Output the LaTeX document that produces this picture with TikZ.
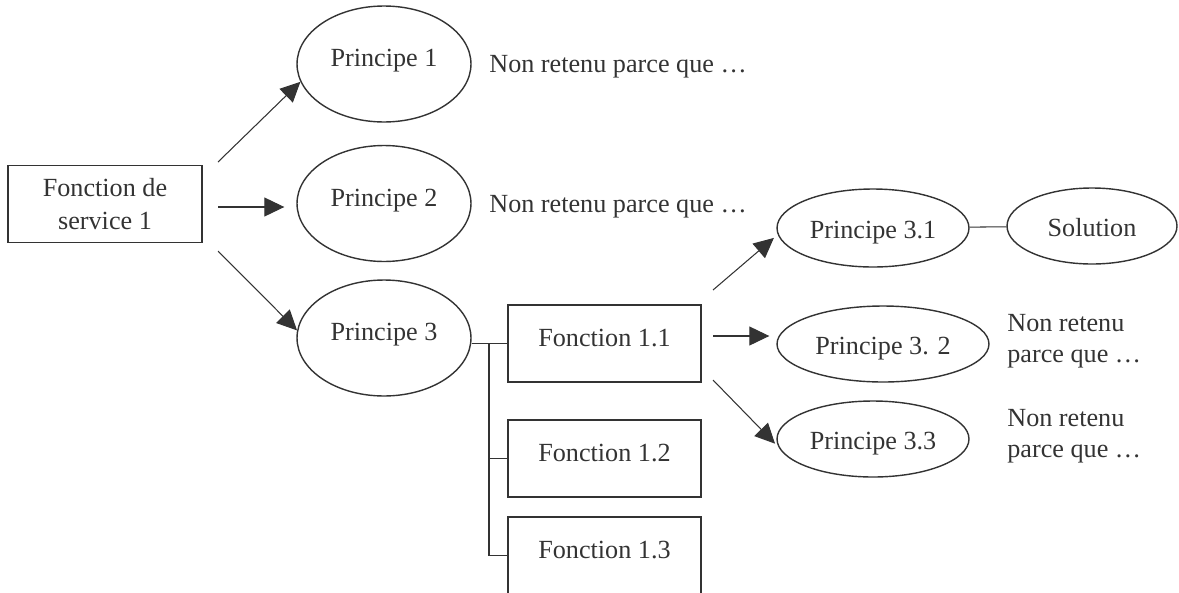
\documentclass[tikz,border=0pt]{standalone}
\usepackage{fontspec}
\setmainfont{Liberation Serif}
\usetikzlibrary{arrows.meta,shapes.geometric}
\definecolor{inkgrey}{RGB}{51,51,51}
\tikzset{
  fbox/.style ={rectangle, draw=inkgrey, line width=0.8pt, inner sep=0pt,
                minimum width=3.86cm, minimum height=1.54cm,
                text height=0.36cm, text depth=0.26cm},
  princ/.style={ellipse, draw=inkgrey, line width=0.8pt, inner sep=0pt,
                text height=0.36cm, text depth=0.26cm},
  princsm/.style={ellipse, draw=inkgrey, line width=0.8pt, inner sep=0pt,
                text height=0.52cm, text depth=0.12cm},
  tline/.style={line width=0.6pt, inkgrey},
  tdir/.style ={-{Triangle[length=4mm, width=3.8mm]}, line width=0.6pt, inkgrey},
  tnote/.style={inner sep=0pt, text=inkgrey},
}
\begin{document}
\begin{tikzpicture}[x=0.02cm, y=-0.02cm, text=inkgrey,
    font=\fontsize{14.9pt}{17.5pt}\selectfont]
    \useasboundingbox (0,0) rectangle (1179,592);
    % service function and its principles
    \node[rectangle, draw=inkgrey, line width=0.8pt, minimum width=3.88cm,
          minimum height=1.54cm, align=center] (fs) at (105,204) {Fonction de\\[1.5pt]service 1};
    \node[princ, minimum width=3.48cm, minimum height=2.32cm] (p1) at (384,64)    {Principe 1};
    \node[princ, minimum width=3.48cm, minimum height=2.32cm] (p2) at (384,203.5) {Principe 2};
    \node[princ, minimum width=3.48cm, minimum height=2.32cm] (p3) at (384,338)   {Principe 3};
    \node[tnote, anchor=base west] (r1) at (489,72)  {Non retenu parce que …};
    \node[tnote, anchor=base west] (r2) at (489,212) {Non retenu parce que …};
    \coordinate (a1) at (218,162);
    \coordinate (a2) at (218,207);
    \coordinate (a3) at (218,251);
    \draw[tdir] (a1) -- (p1.192);
    \draw[tdir, shorten >=0.24cm] (a2) -- (a2 -| p2.west);
    \draw[tdir] (a3) -- (p3.175);
    % sub-functions of principle 3
    \node[fbox] (f11) at (604.5,343.5) {Fonction 1.1};
    \node[fbox] (f12) at (604.5,458.5) {Fonction 1.2};
    \node[fbox] (f13) at (604.5,555.5) {Fonction 1.3};
    \coordinate (trunk) at (489,343.5);
    \draw[tline] (p3.east |- f11) -- (f11.west);
    \draw[tline] (trunk) |- (f12.west);
    \draw[tline] (trunk) |- (f13.west);
    % principles for function 1.1
    \node[princsm, minimum width=3.84cm, minimum height=1.56cm] (p31) at (873,228) {Principe 3.1};
    \node[princsm, minimum width=3.40cm, minimum height=1.52cm] (sol) at (1092,226) {Solution};
    \node[princsm, minimum width=4.24cm, minimum height=1.52cm] (p32) at (883,344) {Principe 3. 2};
    \node[princsm, minimum width=3.84cm, minimum height=1.52cm] (p33) at (873,439) {Principe 3.3};
    \node[tnote, anchor=west, align=left] (r32) at (1007,341) {Non retenu\\parce que …};
    \node[tnote, anchor=west, align=left] (r33) at (1007,436) {Non retenu\\parce que …};
    \coordinate (b1) at (713,290);
    \coordinate (b2) at (713,336);
    \coordinate (b3) at (713,380);
    \draw[tdir, shorten >=0.1cm] (b1) -- (p31.184);
    \draw[tdir, shorten >=0.14cm] (b2) -- (b2 -| p32.west);
    \draw[tdir, shorten >=0.1cm] (b3) -- (p33.185);
    \draw[tline] (p31) -- (sol);
\end{tikzpicture}
\end{document}
